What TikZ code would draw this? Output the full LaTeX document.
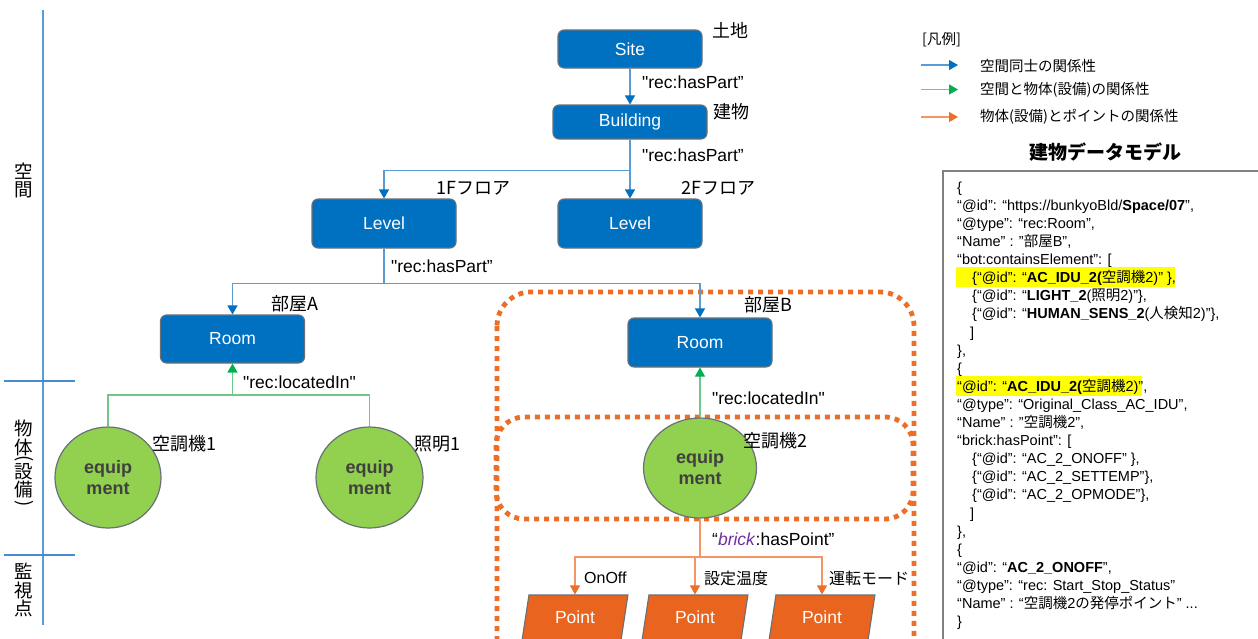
\documentclass[tikz,border=0pt]{standalone}
\usepackage{fontspec}
\setmainfont{Liberation Sans}[Ligatures=TeXOff]
\newfontfamily\jp{Noto Sans CJK JP}
\usetikzlibrary{arrows.meta,shapes.geometric}

\definecolor{boxblue}{RGB}{0,112,192}
\definecolor{lineblue}{RGB}{91,155,213}
\definecolor{tipblue}{RGB}{0,112,192}
\definecolor{linegreen}{RGB}{110,200,140}
\definecolor{tipgreen}{RGB}{0,176,80}
\definecolor{lineorange}{RGB}{244,150,100}
\definecolor{tiporange}{RGB}{237,110,40}
\definecolor{dotorange}{RGB}{237,110,40}
\definecolor{eqgreen}{RGB}{146,208,80}
\definecolor{ptorange}{RGB}{233,100,30}
\definecolor{edgegray}{RGB}{105,112,120}
\definecolor{eqtext}{RGB}{64,64,64}
\definecolor{brickpurple}{RGB}{112,48,160}
\definecolor{framegray}{RGB}{128,128,128}
\definecolor{hlyellow}{RGB}{255,255,0}
\definecolor{axisblue}{RGB}{91,155,213}
\definecolor{axisblue2}{RGB}{70,140,205}

\newcommand\jline[3]{\node[jsontext] (#1) at (#2) {#3};}

\begin{document}
\begin{tikzpicture}[x=1pt,y=-1pt,
  spacebox/.style={rounded corners=6pt, fill=boxblue, draw=edgegray, line width=1.1pt,
    text=white, font=\fontsize{17.5}{20}\selectfont, minimum width=144pt, inner sep=0pt},
  equipnode/.style={ellipse, fill=eqgreen, draw=edgegray, line width=1.2pt, text=eqtext,
    font=\bfseries\fontsize{18}{21}\selectfont, align=center, inner sep=0pt},
  pointnode/.style={trapezium, trapezium left angle=77, trapezium right angle=103,
    trapezium stretches=true, fill=ptorange, draw=edgegray, line width=1.1pt, text=white,
    font=\fontsize{17.5}{20}\selectfont, minimum width=106pt, minimum height=45pt, inner sep=0pt},
  bluearrow/.style={draw=lineblue, line width=1.2pt,
    -{Triangle[width=10pt,length=9pt,color=tipblue,fill=tipblue]}},
  greenline/.style={draw=linegreen, line width=1.2pt},
  greenarrow/.style={draw=linegreen, line width=1.2pt,
    -{Triangle[width=10pt,length=9pt,color=tipgreen,fill=tipgreen]}},
  orangeline/.style={draw=lineorange, line width=1.2pt},
  orangearrow/.style={draw=lineorange, line width=1.2pt,
    -{Triangle[width=10pt,length=9pt,color=tiporange,fill=tiporange]}},
  dotframe/.style={draw=dotorange, line width=4.8pt, dash pattern=on 5pt off 5pt},
  lbl/.style={font=\fontsize{17.5}{20}\selectfont, inner sep=0pt, anchor=west},
  lblsmall/.style={font=\fontsize{16}{18}\selectfont, inner sep=0pt, anchor=west},
  jplbl/.style={font=\jp\fontsize{18}{20}\selectfont, inner sep=0pt, anchor=west},
  jpsmall/.style={font=\jp\fontsize{16}{18}\selectfont, inner sep=0pt, anchor=west},
  vlbl/.style={font=\jp\fontsize{18.5}{20}\selectfont, inner sep=0pt},
  legendtext/.style={font=\jp\fontsize{14.5}{17}\selectfont, inner sep=0pt, anchor=west},
  jsontext/.style={font=\fontsize{14.5}{17}\selectfont, inner sep=0pt, anchor=base west}
]
\useasboundingbox (0,0) rectangle (1258,638);
\fill[white] (0,0) rectangle (1258,638);

% ---- layer axis on the left ----
\draw[axisblue, line width=1.2pt] (43,10) -- (43,625);
\draw[axisblue2, line width=1.2pt] (4,381) -- (75,381);
\draw[axisblue2, line width=1.2pt] (4,555) -- (75,555);
\node[vlbl] (k1) at (24,171.5) {空};
\node[vlbl] (k2) at (24,190) {間};
\node[vlbl] (b1) at (24,428) {物};
\node[vlbl] (b2) at (24,447) {体};
\node[vlbl, rotate=-90] (b3) at (24,459) {(};
\node[vlbl] (b4) at (24,471.5) {設};
\node[vlbl] (b5) at (24,490) {備};
\node[vlbl, rotate=-90] (b6) at (24,503.5) {)};
\node[vlbl] (m1) at (24,571.5) {監};
\node[vlbl] (m2) at (24,590) {視};
\node[vlbl] (m3) at (24,608.5) {点};

% ---- grouping frames around room B and its air conditioner ----
\draw[dotframe, rounded corners=34pt] (497,292) rectangle (914,672);
\draw[dotframe, rounded corners=28pt] (496,417) rectangle (913,519);

% ---- space hierarchy ----
\node[spacebox, minimum height=38pt] (site) at (630,49) {Site};
\node[spacebox, minimum width=154pt, minimum height=34pt] (building) at (630,122) {Building};
\node[spacebox, minimum height=49pt] (lv1) at (384,223.5) {Level};
\node[spacebox, minimum height=49pt] (lv2) at (630,223.5) {Level};
\node[spacebox, minimum height=48pt] (roomA) at (232.5,339) {Room};
\node[spacebox, minimum height=49pt] (roomB) at (700,342.5) {Room};

% ---- equipment ----
\node[equipnode, minimum width=106pt, minimum height=101pt] (eq1) at (108,477.5) {equip\\ment};
\node[equipnode, minimum width=107pt, minimum height=101pt] (eq2) at (369.5,477.5) {equip\\ment};
\node[equipnode, minimum width=113pt, minimum height=100pt] (eq3) at (700,468) {equip\\ment};

% ---- points ----
\node[pointnode] (p1) at (575,617.5) {Point};
\node[pointnode] (p2) at (695,617.5) {Point};
\node[pointnode] (p3) at (822,617.5) {Point};

% ---- space relations ----
\draw[bluearrow] (site.south) -- (building.north);
\draw[bluearrow] (building.south) -- ++(0,31) -| (lv1.north);
\draw[bluearrow] (building.south) -- (lv2.north);
\draw[bluearrow] (lv1.south) -- ++(0,35) -| (roomA.north);
\draw[bluearrow] (lv1.south) -- ++(0,35) -| (roomB.north);

% ---- space / equipment relations ----
\coordinate (gA) at (232.5,395);
\draw[greenline] (eq1.north) |- (gA);
\draw[greenline] (eq2.north) |- (gA);
\draw[greenarrow] (gA) -- (roomA.south);
\draw[greenarrow] (eq3.north) -- (roomB.south);

% ---- equipment / point relations ----
\coordinate (oj) at (700,557);
\draw[orangeline] (eq3.south) -- (oj);
\draw[orangearrow] (oj) -| (p1.north);
\draw[orangearrow] (oj) -| (p2.north);
\draw[orangearrow] (oj) -| (p3.north);

% ---- relation labels ----
\node[lbl] (hp1) at (642,82) {"rec:hasPart”};
\node[lbl] (hp2) at (642,155) {"rec:hasPart”};
\node[lbl] (hp3) at (391,266) {"rec:hasPart”};
\node[lbl] (li1) at (243,382) {"rec:locatedIn"};
\node[lbl] (li2) at (712,398) {"rec:locatedIn"};
\node[lbl] (bhp) at (712,539) {“\textcolor{brickpurple}{\textit{brick}}:hasPoint”};

% ---- instance labels ----
\node[jplbl] (lsite) at (712,30) {土地};
\node[jplbl] (lbld) at (713,112) {建物};
\node[jplbl] (l1f) at (436,188) {1Fフロア};
\node[jplbl] (l2f) at (681,188) {2Fフロア};
\node[jplbl] (lra) at (271,304) {部屋A};
\node[jplbl] (lrb) at (744,305) {部屋B};
\node[jplbl] (lac1) at (152,444) {空調機1};
\node[jplbl] (llt1) at (414,444) {照明1};
\node[jplbl] (lac2) at (743,441) {空調機2};
\node[lblsmall] (lon) at (584,578) {OnOff};
\node[jpsmall] (lst) at (704,578) {設定温度};
\node[jpsmall] (lom) at (829,578) {運転モード};

% ---- legend ----
\node[legendtext] (lgt) at (922,40) {[凡例]};
\coordinate (la1) at (921,65);  \coordinate (lb1) at (958,65);
\coordinate (la2) at (921,89.5); \coordinate (lb2) at (958,89.5);
\coordinate (la3) at (921,117); \coordinate (lb3) at (958,117);
\draw[bluearrow] (la1) -- (lb1);
\draw[greenarrow] (la2) -- (lb2);
\draw[orangearrow] (la3) -- (lb3);
\node[legendtext] (lg1) at (980,66) {空間同士の関係性};
\node[legendtext] (lg2) at (980,90) {空間と物体(設備)の関係性};
\node[legendtext] (lg3) at (980,117) {物体(設備)とポイントの関係性};

% ---- building data model (JSON) ----
\node[font=\jp\bfseries\fontsize{19}{22}\selectfont, inner sep=0pt] (title) at (1105.5,152) {建物データモデル};
\draw[framegray, line width=1.8pt] (943,171) rectangle (1275,665);
\fill[hlyellow] (956,267) rectangle (1175,287);
\fill[hlyellow] (956,376) rectangle (1142,396);
\jline{j1}{957,192.2}{\{}
\jline{j2}{957,210.3}{“@id”: “https://bunkyoBld/\textbf{Space/07}”,}
\jline{j3}{957,228.4}{“@type”: “rec:Room”,}
\jline{j4}{957,246.5}{“Name” : ”{\jp 部屋}B”,}
\jline{j5}{957,264.6}{“bot:containsElement”: [}
\jline{j6}{972,282.7}{\{“@id”: “\textbf{AC\_IDU\_2(}{\jp 空調機}2)” \},}
\jline{j7}{972,300.8}{\{“@id”: “\textbf{LIGHT\_2}({\jp 照明}2)”\},}
\jline{j8}{972,318.9}{\{“@id”: “\textbf{HUMAN\_SENS\_2}({\jp 人検知}2)”\},}
\jline{j9}{970,337.0}{]}
\jline{j10}{957,355.1}{\},}
\jline{j11}{957,373.2}{\{}
\jline{j12}{957,391.3}{“@id”: “\textbf{AC\_IDU\_2(}{\jp 空調機}2)”,}
\jline{j13}{957,409.4}{“@type”: “Original\_Class\_AC\_IDU”,}
\jline{j14}{957,427.5}{“Name” : ”{\jp 空調機}2”,}
\jline{j15}{957,445.6}{“brick:hasPoint”: [}
\jline{j16}{972,463.7}{\{“@id”: “AC\_2\_ONOFF” \},}
\jline{j17}{972,481.8}{\{“@id”: “AC\_2\_SETTEMP”\},}
\jline{j18}{972,499.9}{\{“@id”: “AC\_2\_OPMODE”\},}
\jline{j19}{970,518.0}{]}
\jline{j20}{957,536.1}{\},}
\jline{j21}{957,554.2}{\{}
\jline{j22}{957,572.3}{“@id”: “\textbf{AC\_2\_ONOFF}”,}
\jline{j23}{957,590.4}{“@type”: “rec: Start\_Stop\_Status”}
\jline{j24}{957,608.5}{“Name” : “{\jp 空調機}2{\jp の発停ポイント}” ...}
\jline{j25}{957,626.6}{\}}
\end{tikzpicture}
\end{document}
